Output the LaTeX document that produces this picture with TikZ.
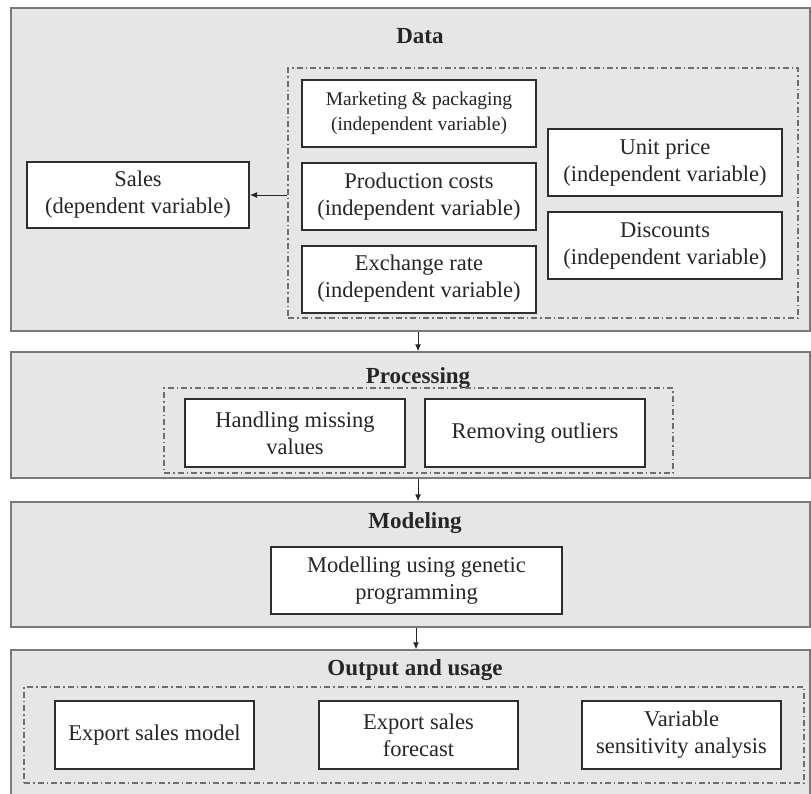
\documentclass[tikz,border=0pt]{standalone}
\usepackage{fontspec}
\setmainfont{Liberation Serif}
\usepackage{tikz}
\usetikzlibrary{arrows.meta,positioning}
\definecolor{panelGray}{HTML}{E6E6E6}
\definecolor{panelBorder}{HTML}{7A7A7A}
\definecolor{boxBorder}{HTML}{2E2E2E}
\definecolor{groupLine}{HTML}{6E6E6E}
\definecolor{inkDark}{HTML}{262626}
\tikzset{
  >={Latex[length=7pt,width=6pt]},
  every picture/.append style={font=\fontsize{22.5}{27}\selectfont, text=inkDark},
  panel/.style={rectangle,draw=panelBorder,fill=panelGray,line width=1.5pt,minimum width=799pt,inner sep=0pt},
  group/.style={rectangle,draw=groupLine,line width=1.2pt,dash pattern=on 6pt off 3pt on 1.5pt off 3pt,inner sep=0pt},
  box/.style={rectangle,draw=boxBorder,fill=white,line width=2pt,align=center,inner sep=2pt,minimum height=67pt},
  stagetitle/.style={font=\bfseries\fontsize{23}{27}\selectfont,anchor=base},
  flow/.style={->,draw=inkDark,line width=1pt},
}
\begin{document}
\begin{tikzpicture}[x=1pt,y=-1pt]
  \useasboundingbox (0,0) rectangle (811,793);
  \clip (0,0) rectangle (811,793);

  \node[panel, minimum height=323pt] (data)  at (410.5,169.5) {};
  \node[panel, minimum height=126pt] (proc)  at (410.5,415)   {};
  \node[panel, minimum height=125pt] (model) at (410.5,564.5) {};
  \node[panel, minimum height=150pt] (out)   at (410.5,725)   {};

  \node[stagetitle] (datatitle)  at (420,43)  {Data};
  \node[stagetitle] (proctitle)  at (418,383) {Processing};
  \node[stagetitle] (modeltitle) at (415,528) {Modeling};
  \node[stagetitle] (outtitle)   at (415,675) {Output and usage};

  \node[group, minimum width=510pt, minimum height=250pt] (datagrp) at (543,193)   {};
  \node[group, minimum width=509pt, minimum height=85pt]  (procgrp) at (418.5,430.5) {};
  \node[group, minimum width=780pt, minimum height=96pt]  (outgrp)  at (414,735)   {};

  \node[box, minimum width=234pt, font=\fontsize{19.5}{25}\selectfont] (mkt) at (419,113.5) {Marketing \& packaging\\(independent variable)};
  \node[box, minimum width=234pt] (prod) at (419,196.5) {Production costs\\(independent variable)};
  \node[box, minimum width=234pt] (exch) at (419,279)   {Exchange rate\\(independent variable)};
  \node[box, minimum width=234pt] (unit) at (665,162.5) {Unit price\\(independent variable)};
  \node[box, minimum width=234pt] (disc) at (665,245.5) {Discounts\\(independent variable)};
  \node[box, minimum width=222pt, minimum height=66pt] (sales) at (138,195) {Sales\\(dependent variable)};

  \node[box, minimum width=220pt, minimum height=68pt] (missing)  at (295,433) {Handling missing\\values};
  \node[box, minimum width=220pt, minimum height=68pt] (outliers) at (535,433) {Removing outliers};

  \node[box, minimum width=291pt] (gp) at (416.5,580.5) {Modelling using genetic\\programming};

  \node[box, minimum width=199pt, minimum height=68pt] (expmodel)    at (154.5,735) {Export sales model};
  \node[box, minimum width=199pt, minimum height=68pt] (expforecast) at (418.5,735) {Export sales\\forecast};
  \node[box, minimum width=199pt, minimum height=68pt] (sensitivity) at (681.5,735) {Variable\\sensitivity analysis};

  \draw[flow] (datagrp.west |- sales.east) -- (sales.east);
  \draw[flow] ([xshift=7.5pt]data.south)  -- ([xshift=7.5pt]proc.north);
  \draw[flow] ([xshift=7.5pt]proc.south)  -- ([xshift=7.5pt]model.north);
  \draw[flow] ([xshift=5.5pt]model.south) -- ([xshift=5.5pt]out.north);
\end{tikzpicture}
\end{document}
